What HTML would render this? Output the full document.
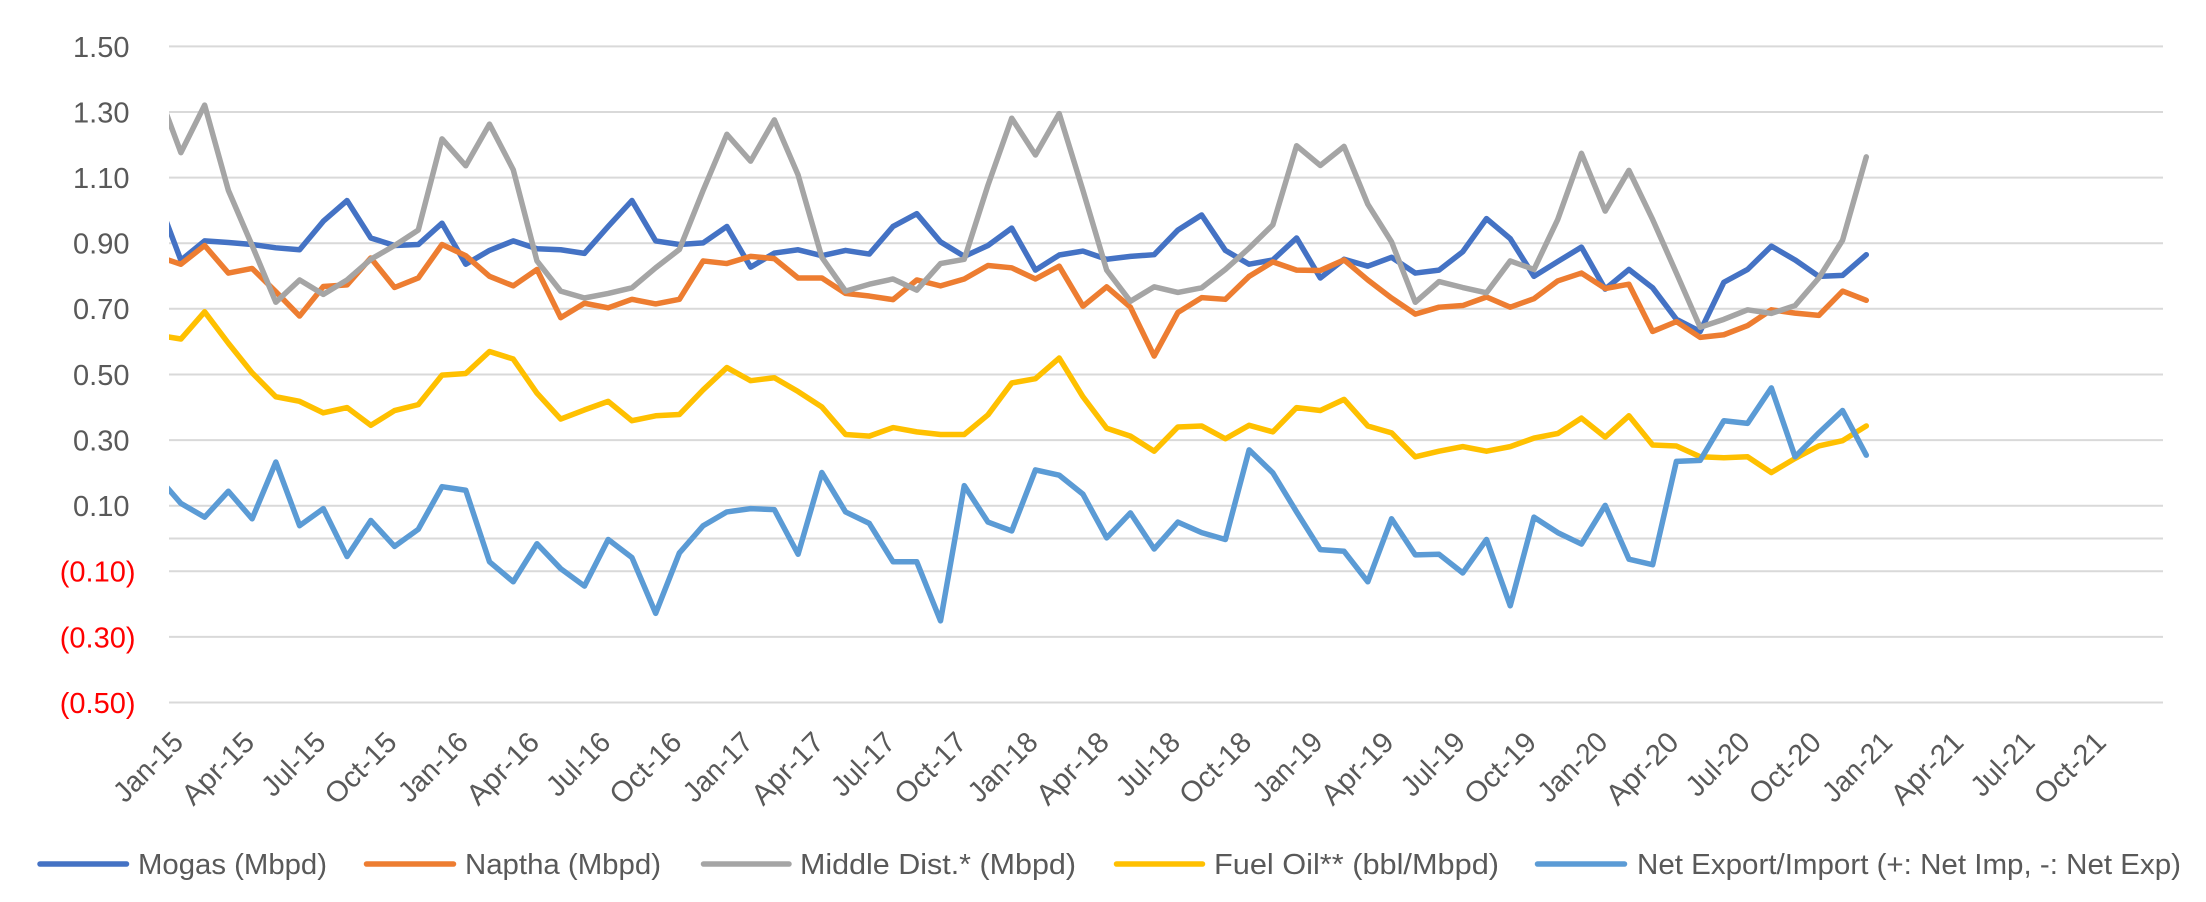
<!DOCTYPE html>
<html>
<head>
<meta charset="utf-8">
<style>
html,body{margin:0;padding:0;background:#fff;}
body{width:2206px;height:902px;overflow:hidden;}
svg{display:block;}
text{font-family:"Liberation Sans",sans-serif;}
</style>
</head>
<body>
<svg width="2206" height="902" viewBox="0 0 2206 902" xmlns="http://www.w3.org/2000/svg">
<rect width="2206" height="902" fill="#fff"/>
<defs>
<clipPath id="pa" clipPathUnits="userSpaceOnUse"><rect x="169" y="0" width="1994" height="720"/></clipPath>
</defs>
<!-- gridlines -->
<g stroke="#D9D9D9" stroke-width="2">
<line x1="169" x2="2163" y1="46.35" y2="46.35"/>
<line x1="169" x2="2163" y1="111.97" y2="111.97"/>
<line x1="169" x2="2163" y1="177.6" y2="177.6"/>
<line x1="169" x2="2163" y1="243.2" y2="243.2"/>
<line x1="169" x2="2163" y1="308.8" y2="308.8"/>
<line x1="169" x2="2163" y1="374.45" y2="374.45"/>
<line x1="169" x2="2163" y1="440.07" y2="440.07"/>
<line x1="169" x2="2163" y1="505.7" y2="505.7"/>
<line x1="169" x2="2163" y1="538.5" y2="538.5"/>
<line x1="169" x2="2163" y1="571.3" y2="571.3"/>
<line x1="169" x2="2163" y1="636.9" y2="636.9"/>
<line x1="169" x2="2163" y1="702.55" y2="702.55"/>
</g>
<!-- y labels -->
<g font-size="29" fill="#595959" text-anchor="end">
<text x="129.5" y="56.8">1.50</text>
<text x="129.5" y="122.4">1.30</text>
<text x="129.5" y="188">1.10</text>
<text x="129.5" y="253.6">0.90</text>
<text x="129.5" y="319.2">0.70</text>
<text x="129.5" y="384.9">0.50</text>
<text x="129.5" y="450.5">0.30</text>
<text x="129.5" y="516.1">0.10</text>
</g>
<g font-size="29" fill="#FF0000" text-anchor="end">
<text x="135.5" y="581.7">(0.10)</text>
<text x="135.5" y="647.3">(0.30)</text>
<text x="135.5" y="713">(0.50)</text>
</g>
<!-- series -->
<g clip-path="url(#pa)">
<g transform="translate(180.9,538.5) scale(23.738,-328.1)" fill="none" stroke-linejoin="round" stroke-linecap="round">
<polyline vector-effect="non-scaling-stroke" stroke="#4472C4" stroke-width="5.5" points="-1,1.04 0,0.848 1,0.907 2,0.902 3,0.896 4,0.886 5,0.880 6,0.967 7,1.030 8,0.916 9,0.893 10,0.896 11,0.961 12,0.836 13,0.878 14,0.907 15,0.883 16,0.880 17,0.869 18,0.951 19,1.030 20,0.907 21,0.896 22,0.901 23,0.951 24,0.827 25,0.870 26,0.880 27,0.862 28,0.878 29,0.867 30,0.951 31,0.990 32,0.904 33,0.860 34,0.893 35,0.946 36,0.818 37,0.864 38,0.876 39,0.851 40,0.860 41,0.865 42,0.940 43,0.986 44,0.878 45,0.836 46,0.849 47,0.916 48,0.794 49,0.851 50,0.830 51,0.857 52,0.809 53,0.818 54,0.874 55,0.975 56,0.914 57,0.799 58,0.844 59,0.888 60,0.760 61,0.820 62,0.764 63,0.668 64,0.631 65,0.781 66,0.820 67,0.891 68,0.849 69,0.799 70,0.802 71,0.865"/>
<polyline vector-effect="non-scaling-stroke" stroke="#ED7D31" stroke-width="5.5" points="-1,0.86 0,0.836 1,0.893 2,0.809 3,0.823 4,0.752 5,0.678 6,0.768 7,0.773 8,0.855 9,0.765 10,0.794 11,0.896 12,0.862 13,0.799 14,0.770 15,0.820 16,0.673 17,0.717 18,0.703 19,0.729 20,0.715 21,0.729 22,0.846 23,0.838 24,0.860 25,0.853 26,0.794 27,0.794 28,0.747 29,0.739 30,0.728 31,0.788 32,0.770 33,0.791 34,0.832 35,0.825 36,0.791 37,0.830 38,0.708 39,0.767 40,0.705 41,0.556 42,0.689 43,0.734 44,0.729 45,0.799 46,0.843 47,0.818 48,0.817 49,0.849 50,0.788 51,0.733 52,0.684 53,0.705 54,0.710 55,0.736 56,0.705 57,0.731 58,0.785 59,0.809 60,0.762 61,0.775 62,0.631 63,0.661 64,0.613 65,0.621 66,0.649 67,0.697 68,0.687 69,0.680 70,0.754 71,0.726"/>
<polyline vector-effect="non-scaling-stroke" stroke="#A5A5A5" stroke-width="5.5" points="-1,1.37 0,1.176 1,1.321 2,1.061 3,0.893 4,0.720 5,0.788 6,0.744 7,0.788 8,0.851 9,0.893 10,0.940 11,1.218 12,1.136 13,1.263 14,1.124 15,0.846 16,0.754 17,0.733 18,0.747 19,0.764 20,0.825 21,0.881 22,1.061 23,1.232 24,1.150 25,1.276 26,1.108 27,0.857 28,0.754 29,0.775 30,0.791 31,0.757 32,0.838 33,0.851 34,1.077 35,1.281 36,1.169 37,1.295 38,1.061 39,0.818 40,0.723 41,0.767 42,0.750 43,0.764 44,0.820 45,0.885 46,0.956 47,1.197 48,1.137 49,1.195 50,1.019 51,0.904 52,0.720 53,0.783 54,0.765 55,0.749 56,0.846 57,0.820 58,0.972 59,1.174 60,0.998 61,1.122 62,0.972 63,0.809 64,0.644 65,0.668 66,0.697 67,0.686 68,0.710 69,0.794 70,0.909 71,1.163"/>
<polyline vector-effect="non-scaling-stroke" stroke="#FFC000" stroke-width="5.5" points="-1,0.62 0,0.608 1,0.691 2,0.595 3,0.505 4,0.432 5,0.418 6,0.383 7,0.399 8,0.345 9,0.390 10,0.408 11,0.498 12,0.503 13,0.570 14,0.547 15,0.443 16,0.364 17,0.392 18,0.418 19,0.359 20,0.374 21,0.378 22,0.453 23,0.521 24,0.481 25,0.490 26,0.448 27,0.401 28,0.317 29,0.312 30,0.338 31,0.325 32,0.317 33,0.317 34,0.377 35,0.474 36,0.487 37,0.550 38,0.432 39,0.336 40,0.312 41,0.266 42,0.340 43,0.343 44,0.304 45,0.345 46,0.325 47,0.399 48,0.390 49,0.424 50,0.343 51,0.322 52,0.249 53,0.266 54,0.280 55,0.266 56,0.280 57,0.306 58,0.320 59,0.367 60,0.309 61,0.374 62,0.285 63,0.282 64,0.249 65,0.246 66,0.249 67,0.201 68,0.244 69,0.282 70,0.298 71,0.343"/>
<polyline vector-effect="non-scaling-stroke" stroke="#5B9BD5" stroke-width="5.5" points="-1,0.19 0,0.107 1,0.065 2,0.144 3,0.060 4,0.233 5,0.039 6,0.091 7,-0.055 8,0.055 9,-0.024 10,0.028 11,0.158 12,0.147 13,-0.071 14,-0.132 15,-0.016 16,-0.092 17,-0.145 18,-0.003 19,-0.058 20,-0.228 21,-0.044 22,0.039 23,0.081 24,0.091 25,0.088 26,-0.048 27,0.201 28,0.081 29,0.046 30,-0.071 31,-0.071 32,-0.251 33,0.161 34,0.050 35,0.023 36,0.209 37,0.193 38,0.135 39,0.002 40,0.078 41,-0.032 42,0.050 43,0.018 44,-0.003 45,0.270 46,0.200 47,0.081 48,-0.034 49,-0.039 50,-0.132 51,0.060 52,-0.050 53,-0.048 54,-0.105 55,-0.003 56,-0.205 57,0.065 58,0.018 59,-0.017 60,0.101 61,-0.063 62,-0.080 63,0.235 64,0.238 65,0.359 66,0.351 67,0.459 68,0.249 69,0.322 70,0.390 71,0.254"/>
</g>
</g>
<!-- x labels -->
<g font-size="29" fill="#595959" text-anchor="end">
<text transform="translate(184.9,744) rotate(-45)" textLength="84.6" lengthAdjust="spacingAndGlyphs">Jan-15</text>
<text transform="translate(256.1,744) rotate(-45)" textLength="88.7" lengthAdjust="spacingAndGlyphs">Apr-15</text>
<text transform="translate(327.3,744) rotate(-45)" textLength="76.6" lengthAdjust="spacingAndGlyphs">Jul-15</text>
<text transform="translate(398.5,744) rotate(-45)" textLength="87.7" lengthAdjust="spacingAndGlyphs">Oct-15</text>
<text transform="translate(469.8,744) rotate(-45)" textLength="84.6" lengthAdjust="spacingAndGlyphs">Jan-16</text>
<text transform="translate(541,744) rotate(-45)" textLength="88.7" lengthAdjust="spacingAndGlyphs">Apr-16</text>
<text transform="translate(612.2,744) rotate(-45)" textLength="76.6" lengthAdjust="spacingAndGlyphs">Jul-16</text>
<text transform="translate(683.4,744) rotate(-45)" textLength="87.7" lengthAdjust="spacingAndGlyphs">Oct-16</text>
<text transform="translate(754.6,744) rotate(-45)" textLength="84.6" lengthAdjust="spacingAndGlyphs">Jan-17</text>
<text transform="translate(825.8,744) rotate(-45)" textLength="88.7" lengthAdjust="spacingAndGlyphs">Apr-17</text>
<text transform="translate(897,744) rotate(-45)" textLength="76.6" lengthAdjust="spacingAndGlyphs">Jul-17</text>
<text transform="translate(968.3,744) rotate(-45)" textLength="87.7" lengthAdjust="spacingAndGlyphs">Oct-17</text>
<text transform="translate(1039.5,744) rotate(-45)" textLength="84.6" lengthAdjust="spacingAndGlyphs">Jan-18</text>
<text transform="translate(1110.7,744) rotate(-45)" textLength="88.7" lengthAdjust="spacingAndGlyphs">Apr-18</text>
<text transform="translate(1181.9,744) rotate(-45)" textLength="76.6" lengthAdjust="spacingAndGlyphs">Jul-18</text>
<text transform="translate(1253.1,744) rotate(-45)" textLength="87.7" lengthAdjust="spacingAndGlyphs">Oct-18</text>
<text transform="translate(1324.3,744) rotate(-45)" textLength="84.6" lengthAdjust="spacingAndGlyphs">Jan-19</text>
<text transform="translate(1395.5,744) rotate(-45)" textLength="88.7" lengthAdjust="spacingAndGlyphs">Apr-19</text>
<text transform="translate(1466.8,744) rotate(-45)" textLength="76.6" lengthAdjust="spacingAndGlyphs">Jul-19</text>
<text transform="translate(1538,744) rotate(-45)" textLength="87.7" lengthAdjust="spacingAndGlyphs">Oct-19</text>
<text transform="translate(1609.2,744) rotate(-45)" textLength="84.6" lengthAdjust="spacingAndGlyphs">Jan-20</text>
<text transform="translate(1680.4,744) rotate(-45)" textLength="88.7" lengthAdjust="spacingAndGlyphs">Apr-20</text>
<text transform="translate(1751.6,744) rotate(-45)" textLength="76.6" lengthAdjust="spacingAndGlyphs">Jul-20</text>
<text transform="translate(1822.8,744) rotate(-45)" textLength="87.7" lengthAdjust="spacingAndGlyphs">Oct-20</text>
<text transform="translate(1894,744) rotate(-45)" textLength="84.6" lengthAdjust="spacingAndGlyphs">Jan-21</text>
<text transform="translate(1965.3,744) rotate(-45)" textLength="88.7" lengthAdjust="spacingAndGlyphs">Apr-21</text>
<text transform="translate(2036.5,744) rotate(-45)" textLength="76.6" lengthAdjust="spacingAndGlyphs">Jul-21</text>
<text transform="translate(2107.7,744) rotate(-45)" textLength="87.7" lengthAdjust="spacingAndGlyphs">Oct-21</text>
</g>
<!-- legend -->
<g stroke-width="5.5" stroke-linecap="round">
<line x1="40" x2="126.5" y1="864" y2="864" stroke="#4472C4"/>
<line x1="366.5" x2="453.5" y1="864" y2="864" stroke="#ED7D31"/>
<line x1="703.5" x2="789" y1="864" y2="864" stroke="#A5A5A5"/>
<line x1="1116.5" x2="1202.5" y1="864" y2="864" stroke="#FFC000"/>
<line x1="1537.5" x2="1624.5" y1="864" y2="864" stroke="#5B9BD5"/>
</g>
<g font-size="29" fill="#595959">
<text x="138" y="874" textLength="189" lengthAdjust="spacingAndGlyphs">Mogas (Mbpd)</text>
<text x="465" y="874" textLength="196" lengthAdjust="spacingAndGlyphs">Naptha (Mbpd)</text>
<text x="800" y="874" textLength="276" lengthAdjust="spacingAndGlyphs">Middle Dist.* (Mbpd)</text>
<text x="1214" y="874" textLength="285" lengthAdjust="spacingAndGlyphs">Fuel Oil** (bbl/Mbpd)</text>
<text x="1637" y="874" textLength="544" lengthAdjust="spacingAndGlyphs">Net Export/Import (+: Net Imp, -: Net Exp)</text>
</g>
</svg>
</body>
</html>
